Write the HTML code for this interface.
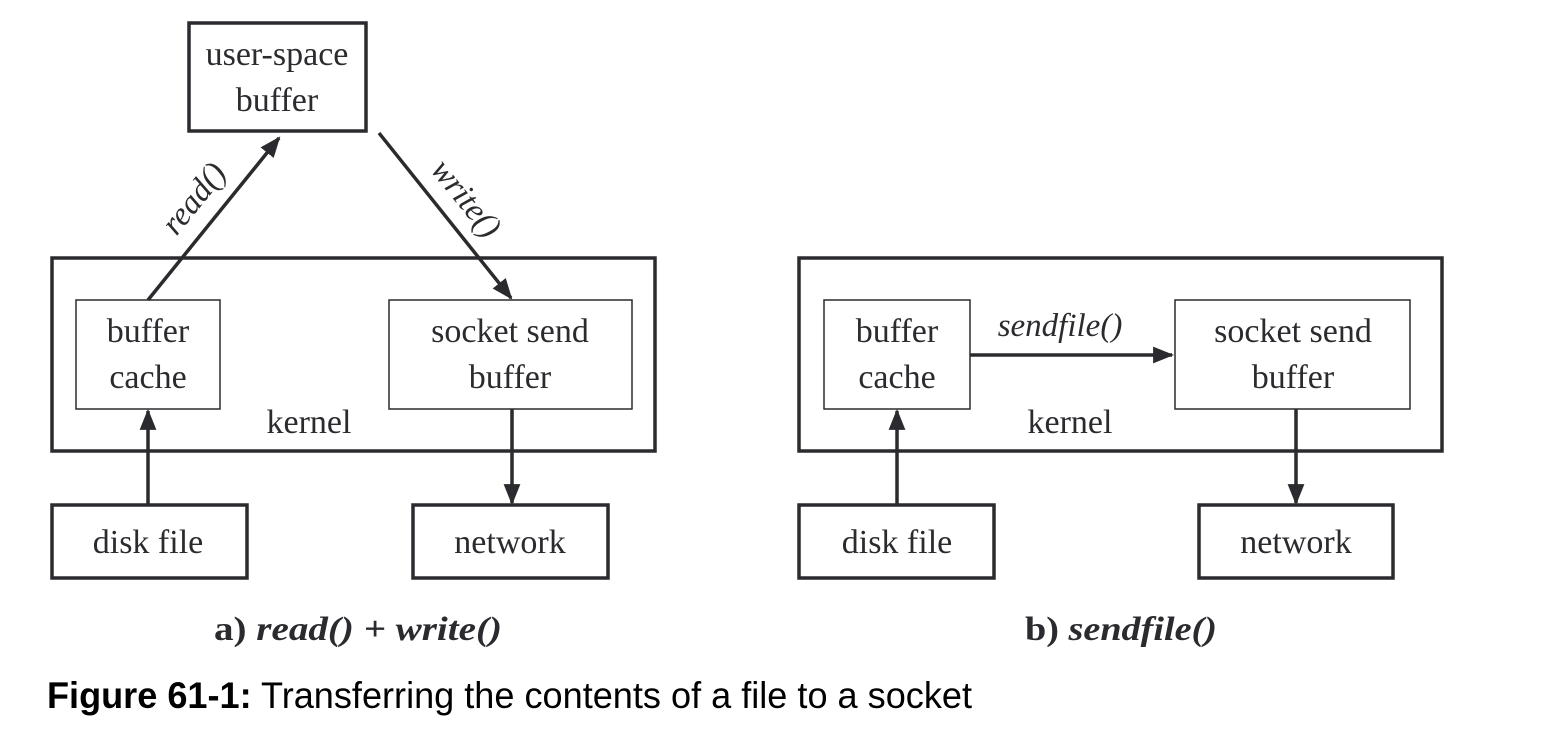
<!DOCTYPE html>
<html><head><style>html,body{margin:0;padding:0;background:#fff}svg{display:block}</style></head><body>
<svg width="1552" height="742" viewBox="0 0 1552 742" xmlns="http://www.w3.org/2000/svg">
<defs><marker id="m" viewBox="0 0 10 10" refX="9" refY="5" markerWidth="6" markerHeight="6" orient="auto"><path d="M0,1L10,5L0,9z" fill="#2b2b2f"/></marker></defs>
<g fill="none" stroke="#2b2b2f">
<rect x="189" y="23" width="177" height="108" stroke-width="3.5"/>
<rect x="52" y="258" width="603" height="193" stroke-width="3.5"/>
<rect x="76" y="300" width="144" height="109" stroke-width="1.5"/>
<rect x="389" y="300" width="243" height="109" stroke-width="1.5"/>
<rect x="52" y="505" width="195" height="73" stroke-width="3.5"/>
<rect x="413" y="505" width="195" height="73" stroke-width="3.5"/>
<rect x="799" y="258" width="643" height="193" stroke-width="3.5"/>
<rect x="824" y="300" width="146" height="109" stroke-width="1.5"/>
<rect x="1175" y="300" width="235" height="109" stroke-width="1.5"/>
<rect x="799" y="505" width="195" height="73" stroke-width="3.5"/>
<rect x="1199" y="505" width="194" height="73" stroke-width="3.5"/>
<g stroke-width="3.5" marker-end="url(#m)">
<line x1="148" y1="300" x2="279" y2="138"/>
<line x1="379" y1="133" x2="511" y2="298"/>
<line x1="148" y1="505" x2="148" y2="411"/>
<line x1="512" y1="409" x2="512" y2="503"/>
<line x1="970" y1="355" x2="1172" y2="355"/>
<line x1="897" y1="505" x2="897" y2="411"/>
<line x1="1296" y1="409" x2="1296" y2="503"/>
</g></g>
<g font-family="Liberation Serif, serif" font-size="34" fill="#2b2b2f" text-anchor="middle">
<text x="277" y="65">user-space</text><text x="277" y="111">buffer</text>
<text x="148" y="342">buffer</text><text x="148" y="388">cache</text>
<text x="510" y="342">socket send</text><text x="510" y="388">buffer</text>
<text x="309" y="433">kernel</text>
<text x="148" y="553">disk file</text><text x="510" y="553">network</text>
<text x="897" y="342">buffer</text><text x="897" y="388">cache</text>
<text x="1293" y="342">socket send</text><text x="1293" y="388">buffer</text>
<text x="1070" y="433">kernel</text>
<text x="897" y="553">disk file</text><text x="1296" y="553">network</text>
<g font-style="italic" font-size="33">
<text transform="translate(202,205) rotate(-51)">read()</text>
<text transform="translate(458,205) rotate(51)">write()</text>
<text x="1060" y="336">sendfile()</text>
</g>
<text x="358" y="640" font-weight="bold" font-size="34" textLength="288" lengthAdjust="spacingAndGlyphs">a) <tspan font-style="italic">read() + write()</tspan></text>
<text x="1121" y="640" font-weight="bold" font-size="34" textLength="192" lengthAdjust="spacingAndGlyphs">b) <tspan font-style="italic">sendfile()</tspan></text>
</g>
<text x="47" y="708" font-family="Liberation Sans, sans-serif" font-size="37" fill="#000" textLength="925" lengthAdjust="spacingAndGlyphs"><tspan font-weight="bold">Figure 61-1:</tspan> Transferring the contents of a file to a socket</text>
</svg>
</body></html>
